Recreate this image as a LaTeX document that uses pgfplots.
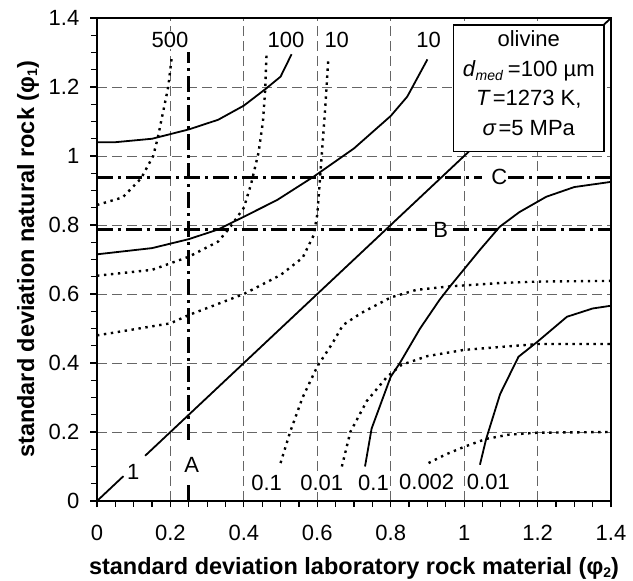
\documentclass[border=0pt]{standalone}
\usepackage{fontspec}
\setmainfont{Liberation Sans}
\usepackage{pgfplots}
\pgfplotsset{compat=1.18}
\newcommand\fs{\fontsize{22}{29.5}\selectfont}
\newcommand\sub[2]{\raisebox{-#1}{\fontsize{14}{14}\selectfont #2}}
\begin{document}
\begin{tikzpicture}
\path[use as bounding box] (0,0) rectangle (633pt,581pt);
\begin{axis}[
  at={(97pt,80pt)}, anchor=south west,
  width=514pt, height=483pt, scale only axis,
  xmin=0, xmax=1.4, ymin=0, ymax=1.4,
  xtick={0,0.2,0.4,0.6,0.8,1,1.2,1.4},
  ytick={0,0.2,0.4,0.6,0.8,1,1.2,1.4},
  minor tick num=3,
  tick align=outside, xtick pos=left, ytick pos=left,
  major tick length=6.5pt, minor tick length=6pt,
  tick style={black, line width=1.2pt},
  axis line style={line width=1.6pt},
  grid=major,
  major grid style={dash pattern=on 10pt off 5pt, black!60, line width=0.9pt},
  /pgf/number format/assume math mode=true,
  tick label style={font=\fs, inner sep=0pt},
  xticklabel style={anchor=north, yshift=-17.5pt},
  yticklabel style={anchor=east, xshift=-11pt},
  xlabel={standard deviation laboratory rock material (φ\sub{3pt}{2})},
  ylabel={standard deviation natural rock (φ\sub{3pt}{1})},
  label style={font=\fontsize{23.5}{26}\selectfont\bfseries},
  xlabel style={at={(axis description cs:0.5,0)}, anchor=center, yshift=-67pt},
  ylabel style={at={(axis description cs:0,0.5)}, anchor=center, yshift=69pt},
  clip=false,
]
% solid curves
\addplot[black, line width=1.8pt] coordinates {(0,1.04)(0.05,1.04)(0.15,1.05)(0.25,1.077)(0.33,1.105)(0.4,1.146)(0.46,1.195)(0.5,1.23)(0.53,1.295)};
\addplot[black, line width=1.8pt] coordinates {(0,0.715)(0.15,0.733)(0.25,0.759)(0.33,0.787)(0.4,0.824)(0.49,0.872)(0.59,0.94)(0.7,1.022)(0.8,1.116)(0.845,1.172)(0.9,1.28)};
\addplot[black, line width=1.8pt] coordinates {(0,0)(0.072,0.072)};
\addplot[black, line width=1.8pt] coordinates {(0.131,0.131)(1.4,1.4)};
\addplot[black, line width=1.8pt] coordinates {(0.73,0.10)(0.748,0.21)(0.8,0.36)(0.825,0.40)(0.88,0.50)(0.933,0.583)(0.96,0.62)(1.043,0.728)(1.097,0.795)(1.15,0.837)(1.224,0.882)(1.3,0.91)(1.4,0.925)};
\addplot[black, line width=1.8pt] coordinates {(1.043,0.105)(1.06,0.18)(1.098,0.31)(1.148,0.418)(1.2,0.462)(1.28,0.534)(1.35,0.558)(1.4,0.566)};
% dotted curves
\pgfplotsset{dotcurve/.style={black, line width=2.4pt, dash pattern=on 2.4pt off 4.6pt}}
\addplot[dotcurve] coordinates {(0,0.858)(0.07,0.88)(0.12,0.935)(0.153,1.0)(0.165,1.05)(0.194,1.2)(0.204,1.29)};
\addplot[dotcurve] coordinates {(0,0.653)(0.15,0.67)(0.25,0.708)(0.33,0.752)(0.36,0.79)(0.4,0.85)(0.42,0.92)(0.44,1.01)(0.452,1.1)(0.458,1.19)(0.462,1.3)};
\addplot[dotcurve] coordinates {(0,0.48)(0.2,0.515)(0.25,0.539)(0.4,0.60)(0.5,0.655)(0.56,0.705)(0.59,0.77)(0.6,0.83)(0.605,0.9)(0.612,1.0)(0.621,1.13)(0.63,1.28)};
\addplot[dotcurve] coordinates {(0.5,0.11)(0.526,0.2)(0.56,0.3)(0.6,0.39)(0.64,0.455)(0.67,0.51)(0.72,0.545)(0.8,0.59)(0.87,0.612)(0.96,0.622)(1.1,0.632)(1.2,0.636)(1.4,0.638)};
\addplot[dotcurve] coordinates {(0.667,0.10)(0.69,0.2)(0.735,0.29)(0.79,0.36)(0.83,0.395)(0.9,0.42)(1.0,0.438)(1.2,0.455)(1.4,0.455)};
\addplot[dotcurve] coordinates {(0.903,0.11)(0.95,0.135)(1.0,0.157)(1.06,0.18)(1.12,0.192)(1.2,0.198)(1.4,0.2)};
% dash-dot reference lines
\pgfplotsset{dashdot/.style={black, line width=3pt, dash pattern=on 16pt off 5pt on 3pt off 5pt}}
\addplot[dashdot] coordinates {(0.25,0)(0.25,0.052)};
\addplot[dashdot] coordinates {(0.25,0.177)(0.25,1.3)};
\addplot[dashdot] coordinates {(0,0.786)(0.9,0.786)};
\addplot[dashdot] coordinates {(0.97,0.786)(1.4,0.786)};
\addplot[dashdot] coordinates {(0,0.938)(1.05,0.938)};
\addplot[dashdot] coordinates {(1.12,0.938)(1.4,0.938)};
% labels
\tikzset{lab/.style={font=\fs, fill=white, inner sep=1pt}}
\node[lab] at (axis cs:0.199,1.336) {500};
\node[lab] at (axis cs:0.515,1.336) {100};
\node[lab] at (axis cs:0.653,1.336) {10};
\node[lab] at (axis cs:0.903,1.336) {10};
\node[font=\fs, inner sep=0pt] at (axis cs:0.099,0.085) {1};
\node[font=\fs, inner sep=0pt] at (axis cs:0.258,0.104) {A};
\node[font=\fs, inner sep=0pt] at (axis cs:0.936,0.786) {B};
\node[font=\fs, inner sep=0pt] at (axis cs:1.096,0.938) {C};
\node[lab] at (axis cs:0.462,0.052) {0.1};
\node[lab] at (axis cs:0.612,0.052) {0.01};
\node[lab] at (axis cs:0.753,0.052) {0.1};
\node[lab] at (axis cs:0.898,0.055) {0.002};
\node[lab] at (axis cs:1.066,0.055) {0.01};
% info box
\draw[line width=1.5pt, fill=white] (axis cs:0.971,1.0125) rectangle (axis cs:1.381,1.38);
\node[font=\fs, align=center, inner sep=0pt] at (axis cs:1.176,1.211)
  {olivine\\ \textit{d}\sub{4pt}{\itshape med}\hspace{5pt}=100 µm\\ \textit{T}\hspace{2pt}=1273 K,\\ \textit{σ}\hspace{2pt}=5 MPa};
\end{axis}
\end{tikzpicture}
\end{document}
